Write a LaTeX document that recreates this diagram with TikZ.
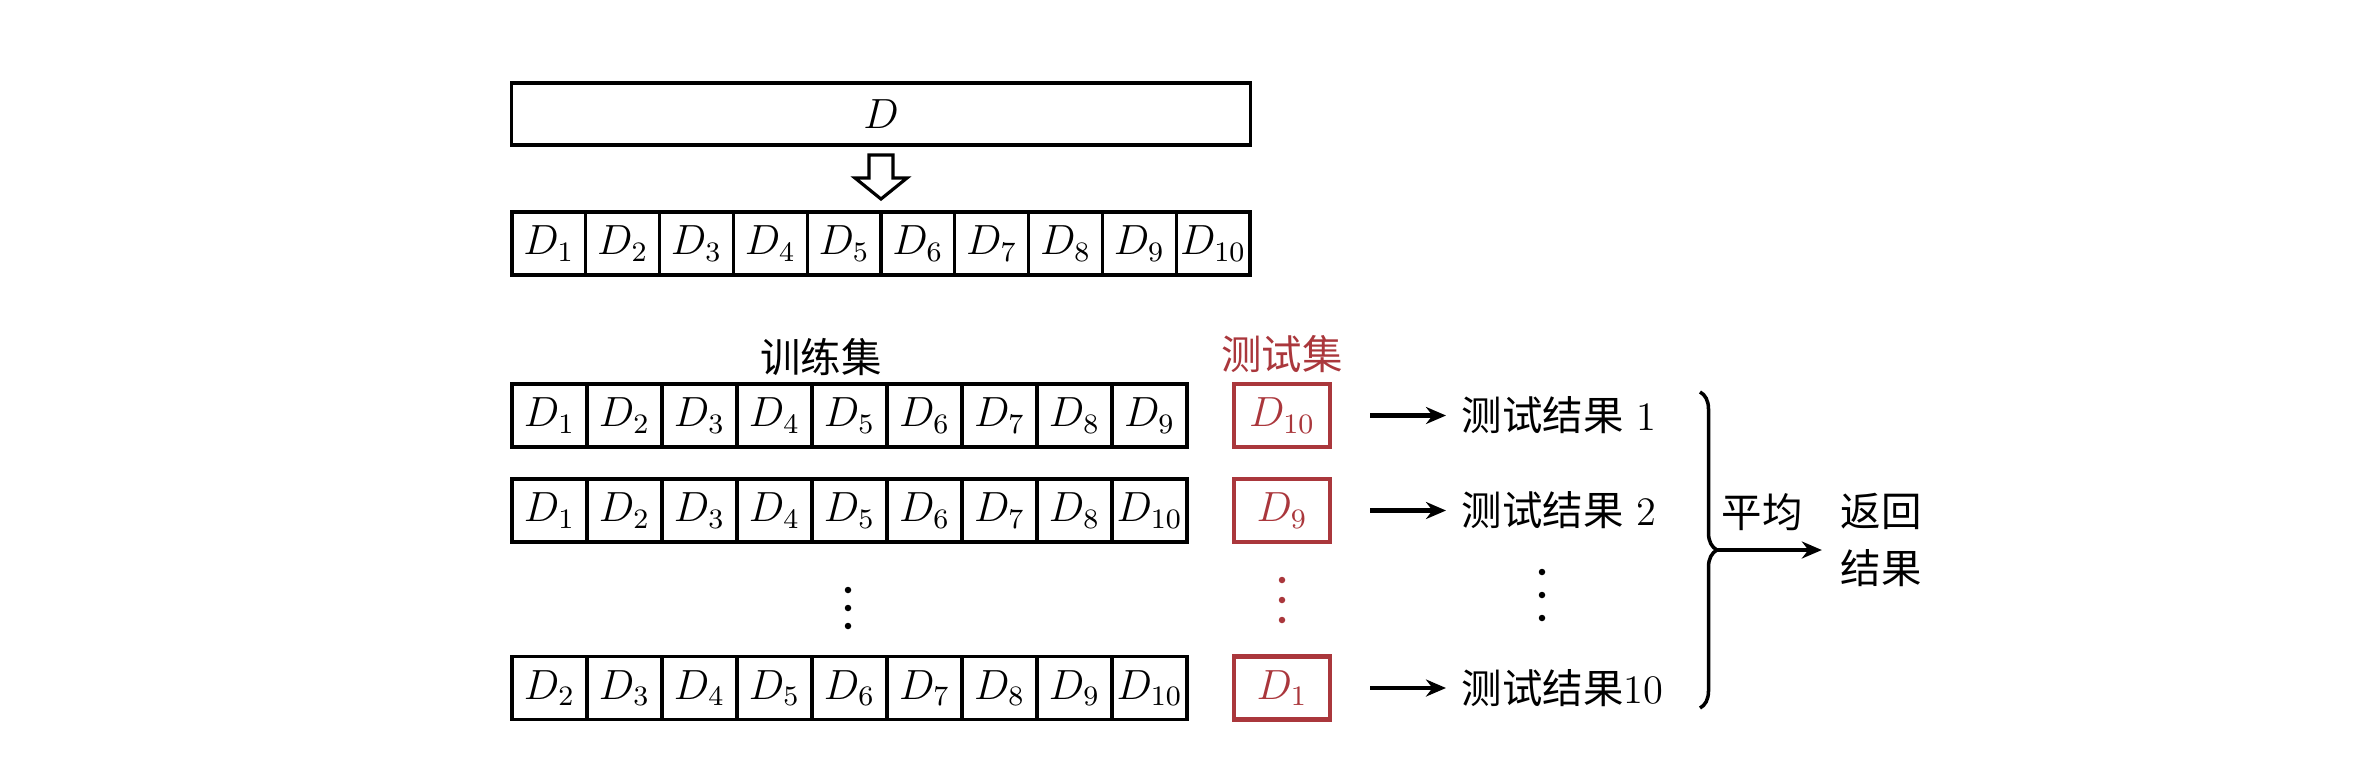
\documentclass[tikz,border=0pt]{standalone}
\usepackage{fontspec}
\newfontfamily\cjk{Noto Sans CJK SC}
\usetikzlibrary{decorations.pathreplacing,arrows.meta}
\definecolor{testred}{RGB}{170,55,60}
\begin{document}
\begin{tikzpicture}[x=0.01cm,y=-0.01cm,
  cell/.style={draw, line width=0.9pt, minimum height=0.63cm, inner sep=0pt, font=\fontsize{11.5}{13}\selectfont},
  testbox/.style={draw=testred, text=testred, line width=1.3pt, minimum width=0.96cm, minimum height=0.63cm, inner sep=0pt, font=\fontsize{11.5}{13}\selectfont},
  lbl/.style={inner sep=0pt, font=\fontsize{11.5}{16}\selectfont\cjk},
  res/.style={anchor=west, inner xsep=0.15cm, inner ysep=0pt, font=\fontsize{11.5}{14}\selectfont},
  conn/.style={line width=1.2pt, -{Stealth[length=0.2cm,width=0.17cm]}},
  dot/.style={circle, fill, inner sep=0pt, minimum size=0.065cm},
]
\useasboundingbox (0,0) rectangle (2362,760);

% top box
\node[cell, minimum width=7.38cm, minimum height=0.62cm] (Dall) at (881,114) {$D$};
% hollow arrow
\draw[line width=0.9pt, fill=white] (869,155) -- (893,155) -- (893,178) -- (907,178) -- (881,199) -- (855,178) -- (869,178) -- cycle;

% split row
\foreach \i in {1,...,10}
  \node[cell, minimum width=0.738cm] (a\i) at ({512+73.8*(\i-0.5)},243.5) {$D_{\i}$};

% labels
\node[lbl] (train) at (821,357) {训练集};
\node[lbl, text=testred] (test) at (1282,354) {测试集};

% row 1
\foreach \v [count=\i] in {1,...,9}
  \node[cell, minimum width=0.75cm] (p\i) at ({512+75*(\i-0.5)},415.5) {$D_{\v}$};
% row 2
\foreach \v [count=\i] in {1,...,8,10}
  \node[cell, minimum width=0.75cm] (q\i) at ({512+75*(\i-0.5)},510.5) {$D_{\v}$};
% row 3
\foreach \v [count=\i] in {2,...,10}
  \node[cell, minimum width=0.75cm] (s\i) at ({512+75*(\i-0.5)},688) {$D_{\v}$};

% test boxes
\node[testbox] (t1) at (1282,415.5) {$D_{10}$};
\node[testbox] (t2) at (1282,510.5) {$D_{9}$};
\node[testbox] (t3) at (1282,688) {$D_{1}$};

% results
\node[res] (r1) at (1446,415.5) {{\cjk 测试结果} 1};
\node[res] (r2) at (1446,510.5) {{\cjk 测试结果} 2};
\node[res] (r3) at (1446,688) {{\cjk 测试结果}10};
\draw[conn] ([xshift=0.38cm]t1.east) -- (r1.west);
\draw[conn] ([xshift=0.38cm]t2.east) -- (r2.west);
\draw[conn] ([xshift=0.38cm]t3.east) -- (r3.west);

% dots
\foreach \y [count=\k] in {590,608,626} \node[dot] (ld\k) at (848,\y) {};
\foreach \y [count=\k] in {580,600,620} \node[dot, fill=testred] (md\k) at (1282,\y) {};
\foreach \y [count=\k] in {572,595,618} \node[dot] (rd\k) at (1542,\y) {};

% brace
\coordinate (bt) at (1700,392);
\coordinate (bb) at (1700,708);
\coordinate (btip) at (1717,550);
\draw[line width=1pt, decorate, decoration={brace, amplitude=0.17cm}] (bt) -- (bb);
\node[lbl] (avg) at (1762,512) {平均};
\node[lbl, align=center, inner xsep=0.18cm] (ret) at (1881,540) {返回\\结果};
\draw[conn] (btip) -- (btip -| ret.west);
\end{tikzpicture}
\end{document}
